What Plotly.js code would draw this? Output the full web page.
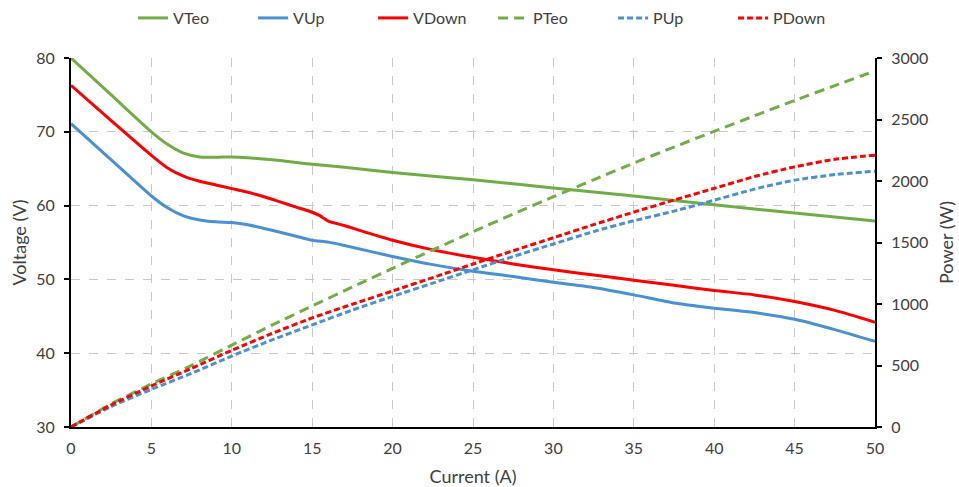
<!DOCTYPE html>
<html><head><meta charset="utf-8">
<script src="https://cdn.plot.ly/plotly-3.0.1.min.js"></script>
<style>html,body{margin:0;padding:0;background:#fff}</style>
</head><body><div id="chart" style="width:959px;height:487px"></div>
<script>
var xTeo = [0,2.5,5,6,7,8,9,10,11,12,13,14,15,17,20,25,30,35,40,45,50];
var vTeo = [80,75.0,70.0,68.3,67.1,66.6,66.55,66.6,66.5,66.3,66.1,65.85,65.6,65.2,64.5,63.5,62.4,61.3,60.1,59.0,57.9];

var xUp = [0,2.5,5,6,7,8,9,10,11,12,13,14,15,16,17,20,22.5,25,27.5,30,32.5,35,37.5,40,42.5,45,47.5,50];
var vUp = [71.1,66.2,61.3,59.7,58.6,58.05,57.8,57.7,57.4,56.9,56.4,55.85,55.3,55.05,54.6,53.1,52.0,51.1,50.4,49.6,48.9,47.9,46.8,46.1,45.5,44.6,43.2,41.6];

var xDown = [0,2.5,5,6,7,8,9,10,11,12,13,14,15,15.5,16,17,18,20,22.5,25,27.5,30,32.5,35,37.5,40,42.5,45,47.5,50];
var vDown = [76.3,71.5,66.8,65.1,64.0,63.3,62.8,62.3,61.8,61.2,60.5,59.8,59.1,58.6,57.9,57.3,56.6,55.3,54.0,53.0,52.1,51.3,50.6,49.9,49.2,48.5,47.9,47.0,45.8,44.2];

var xP = [0,2.5,5,7.5,10,12.5,15,17.5,20,22.5,25,27.5,30,32.5,35,37.5,40,42.5,45,47.5,50];
var pTeo = [0,188,350,501,666,828,984,1138,1290,1440,1588,1731,1872,2010,2146,2276,2404,2530,2655,2775,2895];
var pUp = [0,166,306,437,577,708,830,951,1062,1170,1278,1386,1488,1589,1677,1755,1844,1934,2007,2052,2080];
var pDown = [0,179,334,477,623,761,887,998,1106,1215,1325,1433,1539,1645,1747,1845,1940,2036,2115,2176,2210];

var green = '#70AD47', blue = '#4A90D4', red = '#FF0000';
function tr(name, x, y, color, dash, axis) {
  return {type:'scatter', mode:'lines', name:name, x:x, y:y, yaxis:axis,
    line:{color:color, width:3, dash:dash, shape:'spline', smoothing:0.6}, hoverinfo:'skip'};
}
var data = [
  tr('VTeo', xTeo, vTeo, green, 'solid', 'y'),
  tr('VUp', xUp, vUp, blue, 'solid', 'y'),
  tr('VDown', xDown, vDown, red, 'solid', 'y'),
  tr('PTeo', xP, pTeo, green, '10px,6px', 'y2'),
  tr('PUp', xP, pUp, blue, '6px,3px', 'y2'),
  tr('PDown', xP, pDown, red, '6px,3px', 'y2')
];
var txt = '#404040';
var fam = 'Lato, "Open Sans", sans-serif';
var layout = {
  width:959, height:487,
  margin:{l:71, r:84, t:58, b:60},
  paper_bgcolor:'#fff', plot_bgcolor:'#fff',
  font:{family:fam, size:16, color:txt},
  showlegend:true,
  legend:{orientation:'h', x:0.525, xanchor:'center', y:0.963, yanchor:'middle', yref:'container',
    font:{family:fam, size:16, color:txt}, itemwidth:30, entrywidth:75, entrywidthmode:'pixels',
    traceorder:'normal', tracegroupgap:0},
  xaxis:{range:[0,50], dtick:5, tick0:0, showline:true, linecolor:'#000', linewidth:2,
    showgrid:true, gridcolor:'#c8c8c8', griddash:'dash', gridwidth:1, zeroline:false,
    ticks:'', ticklabelstandoff:6,
    title:{text:'Current (A)', font:{family:fam, size:18, color:txt}, standoff:14}, tickfont:{size:16, color:txt}},
  yaxis:{range:[30,80], dtick:10, showline:true, linecolor:'#000', linewidth:2, ticks:'outside', ticklen:5, tickcolor:'#000', tickwidth:2,
    showgrid:true, gridcolor:'#c8c8c8', griddash:'dash', gridwidth:1, zeroline:false, ticklabelstandoff:6,
    title:{text:'Voltage (V)', font:{family:fam, size:18, color:txt}, standoff:5}, tickfont:{size:16, color:txt}},
  yaxis2:{range:[0,3000], dtick:500, overlaying:'y', side:'right', showline:true, linecolor:'#000', linewidth:2,
    ticks:'outside', ticklen:5, tickcolor:'#000', tickwidth:2, showgrid:false, zeroline:false, ticklabelstandoff:6,
    title:{text:'Power (W)', font:{family:fam, size:18, color:txt}, standoff:13}, tickfont:{size:16, color:txt}}
};
Plotly.newPlot('chart', data, layout, {displayModeBar:false, staticPlot:true});
</script></body></html>
